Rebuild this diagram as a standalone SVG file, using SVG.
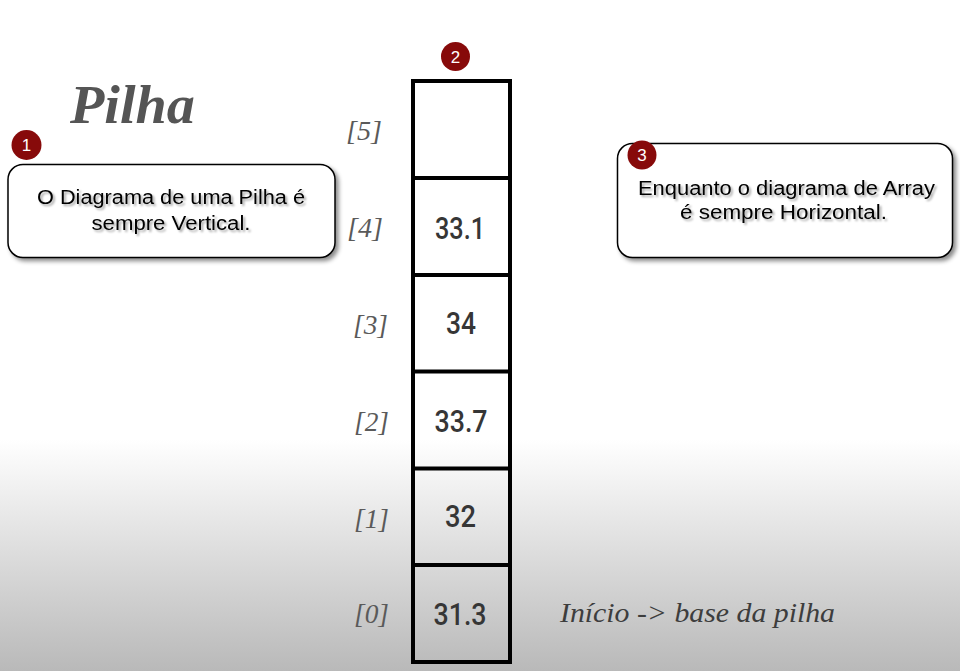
<svg xmlns="http://www.w3.org/2000/svg" width="960" height="671" viewBox="0 0 960 671">
<defs>
<linearGradient id="bg" x1="0" y1="0" x2="0" y2="671" gradientUnits="userSpaceOnUse">
<stop offset="0" stop-color="#ffffff"/>
<stop offset="0.655" stop-color="#ffffff"/>
<stop offset="1" stop-color="#b9b9b9"/>
</linearGradient>
<filter id="boxShadow" x="-10%" y="-10%" width="125%" height="130%">
<feDropShadow dx="3" dy="3" stdDeviation="2" flood-color="#000" flood-opacity="0.45"/>
</filter>
<filter id="txtShadow" x="-10%" y="-30%" width="125%" height="170%">
<feDropShadow dx="2" dy="2" stdDeviation="1.2" flood-color="#000" flood-opacity="0.35"/>
</filter>
</defs>
<style>
.idx{font-family:"Liberation Serif",serif;font-style:italic;font-size:27px;fill:#5a5a5a;}
.val{font-family:Roboto,"Liberation Sans",sans-serif;font-weight:500;font-size:31px;fill:#363636;text-anchor:middle;}
.cell{fill:none;stroke:#000;stroke-width:4;}
.call{fill:#fff;stroke:#000;stroke-width:1.5;filter:url(#boxShadow);}
.ctext{font-family:"Liberation Sans",Arial,sans-serif;font-size:20px;fill:#000;text-anchor:middle;filter:url(#txtShadow);}
.badge{fill:#870a0a;}
.btext{font-family:"Liberation Sans",Arial,sans-serif;font-size:17px;fill:#fff;text-anchor:middle;}
</style>
<rect x="0" y="0" width="960" height="671" fill="url(#bg)"/>

<text x="70" y="123" font-family="'Liberation Serif',serif" font-style="italic" font-weight="bold" font-size="54" fill="#555" textLength="125" lengthAdjust="spacingAndGlyphs">Pilha</text>

<g id="stack">
<rect class="cell" x="413" y="81" width="97" height="581"/>
<line class="cell" x1="413" y1="178" x2="510" y2="178"/>
<line class="cell" x1="413" y1="275" x2="510" y2="275"/>
<line class="cell" x1="413" y1="371.5" x2="510" y2="371.5"/>
<line class="cell" x1="413" y1="468.5" x2="510" y2="468.5"/>
<line class="cell" x1="413" y1="565" x2="510" y2="565"/>
</g>

<g id="cell5"><text class="idx" x="346" y="140" textLength="36" lengthAdjust="spacingAndGlyphs">[5]</text></g>
<g id="cell4"><text class="idx" x="347" y="237" textLength="36" lengthAdjust="spacingAndGlyphs">[4]</text><text class="val" x="460" y="239" textLength="50" lengthAdjust="spacingAndGlyphs">33.1</text></g>
<g id="cell3"><text class="idx" x="353" y="334" textLength="35" lengthAdjust="spacingAndGlyphs">[3]</text><text class="val" x="461" y="334" textLength="30" lengthAdjust="spacingAndGlyphs">34</text></g>
<g id="cell2"><text class="idx" x="354" y="431" textLength="35" lengthAdjust="spacingAndGlyphs">[2]</text><text class="val" x="461" y="431.5" textLength="53" lengthAdjust="spacingAndGlyphs">33.7</text></g>
<g id="cell1"><text class="idx" x="354" y="528" textLength="35" lengthAdjust="spacingAndGlyphs">[1]</text><text class="val" x="460.5" y="527" textLength="31" lengthAdjust="spacingAndGlyphs">32</text></g>
<g id="cell0"><text class="idx" x="354" y="623" textLength="35" lengthAdjust="spacingAndGlyphs">[0]</text><text class="val" x="460" y="625" textLength="53" lengthAdjust="spacingAndGlyphs">31.3</text></g>

<text x="560" y="622" font-family="'Liberation Serif',serif" font-style="italic" font-size="27" fill="#3d3d3d" textLength="275" lengthAdjust="spacingAndGlyphs">Início -&gt; base da pilha</text>

<g id="callout1">
<rect class="call" x="8" y="164.5" width="327" height="93" rx="15"/>
<text class="ctext" x="171" y="204" textLength="268" lengthAdjust="spacingAndGlyphs">O Diagrama de uma Pilha é</text>
<text class="ctext" x="171" y="229.5" textLength="159" lengthAdjust="spacingAndGlyphs">sempre Vertical.</text>
</g>
<g id="badge1">
<circle class="badge" cx="26.5" cy="145" r="15"/>
<text class="btext" x="26.5" y="151">1</text>
</g>

<g id="badge2">
<circle class="badge" cx="455.5" cy="56.5" r="14.5"/>
<text class="btext" x="455.5" y="62.5">2</text>
</g>

<g id="callout3">
<rect class="call" x="617.5" y="143.5" width="335" height="114" rx="15"/>
<text class="ctext" x="786.5" y="195" textLength="297" lengthAdjust="spacingAndGlyphs">Enquanto o diagrama de Array</text>
<text class="ctext" x="783.5" y="219" textLength="207" lengthAdjust="spacingAndGlyphs">é sempre Horizontal.</text>
</g>
<g id="badge3">
<circle class="badge" cx="642" cy="155" r="14.5"/>
<text class="btext" x="642" y="161">3</text>
</g>
</svg>
